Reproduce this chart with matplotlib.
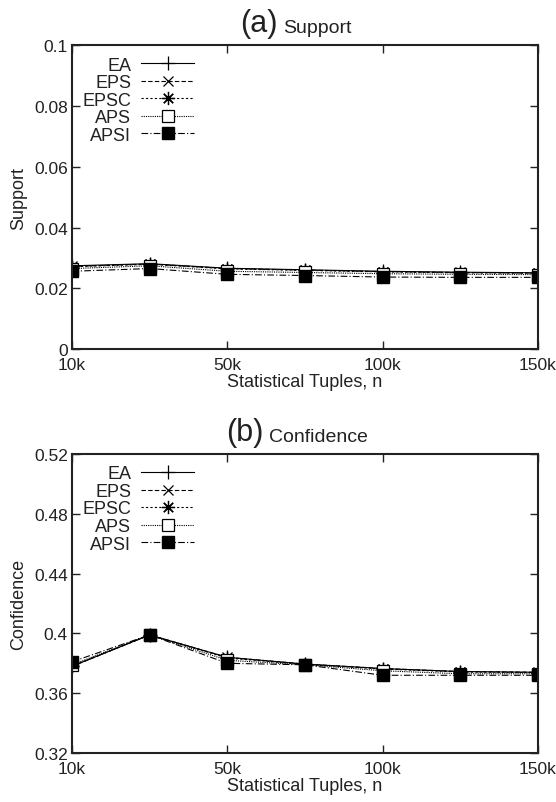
import matplotlib
matplotlib.use('Agg')
import matplotlib.pyplot as plt

plt.rcParams['font.family'] = ['Liberation Sans', 'DejaVu Sans']

# x categories (evenly spaced in the original plot)
tuples = ['10k', '25k', '50k', '75k', '100k', '125k', '150k']
tick_labels = ['10k', '50k', '100k', '150k']
methods = ['EA', 'EPS', 'EPSC', 'APS', 'APSI']

# Support values
support_EA = [0.0274, 0.0281, 0.0266, 0.0261, 0.0256, 0.0253, 0.0251]
support_EPS = [0.0272, 0.0280, 0.0265, 0.0260, 0.0255, 0.0252, 0.0250]
support_EPSC = [0.0271, 0.0279, 0.0264, 0.0259, 0.0254, 0.0251, 0.0250]
support_APS = [0.0265, 0.0274, 0.0256, 0.0252, 0.0248, 0.0246, 0.0245]
support_APSI = [0.0256, 0.0265, 0.0246, 0.0242, 0.0237, 0.0236, 0.0236]

# Confidence values
conf_EA = [0.378, 0.399, 0.384, 0.3795, 0.3765, 0.3745, 0.374]
conf_EPS = [0.378, 0.399, 0.384, 0.3795, 0.3765, 0.3745, 0.374]
conf_EPSC = [0.378, 0.399, 0.3835, 0.3793, 0.3762, 0.3742, 0.3738]
conf_APS = [0.379, 0.399, 0.382, 0.379, 0.375, 0.373, 0.373]
conf_APSI = [0.381, 0.399, 0.380, 0.379, 0.372, 0.372, 0.372]

styles = {
    'EA': dict(linestyle='-', marker='+', markersize=10, markeredgewidth=0.9),
    'EPS': dict(linestyle=(0, (4, 2)), marker='x', markersize=7.5, markeredgewidth=0.9),
    'EPSC': dict(linestyle=(0, (2, 2)), marker=(8, 2, 0), markersize=9.5, markeredgewidth=0.9),
    'APS': dict(linestyle=(0, (1, 1)), marker='s', markersize=8, markerfacecolor='white', markeredgewidth=0.9),
    'APSI': dict(linestyle=(0, (6, 2, 1, 2)), marker='s', markersize=8, markerfacecolor='black'),
}
ink = '#222222'


def panel(ax, series, yticks, ylabels, ylim, ylabel, tag, title, tag_x):
    x = list(range(len(tuples)))
    for name, vals in zip(methods, series):
        ax.plot(x, vals, color='black', linewidth=0.8, label=name, **styles[name])
    ax.set_xlim(0, len(tuples) - 1)
    ax.set_ylim(*ylim)
    ax.set_xticks([0, 2, 4, 6])
    ax.set_xticklabels(tick_labels)
    ax.set_yticks(yticks)
    ax.set_yticklabels(ylabels)
    ax.tick_params(direction='in', length=6, width=1, top=True, right=True,
                   labelsize=12.5, pad=3, colors=ink)
    ax.tick_params(axis='x', pad=6)
    for s in ax.spines.values():
        s.set_linewidth(1.5)
        s.set_color(ink)
    ax.set_xlabel('Statistical Tuples, n', fontsize=13, labelpad=0.5, color=ink)
    ax.set_ylabel(ylabel, fontsize=13, labelpad=5, color=ink)
    leg = ax.legend(loc='upper left', bbox_to_anchor=(0.022, 0.962), frameon=False,
                    markerfirst=False, fontsize=13, handlelength=2.95,
                    handletextpad=0.55, labelspacing=0.03, borderpad=0, borderaxespad=0)
    for t in leg.get_texts():
        t.set_color(ink)
    ax.text(tag_x, 1.022, tag, transform=ax.transAxes, ha='right', va='bottom', fontsize=22, color=ink)
    ax.text(tag_x + 0.011, 1.03, title, transform=ax.transAxes, ha='left', va='bottom', fontsize=14, color=ink)


fig = plt.figure(figsize=(5.56, 8.03), dpi=100)
ax1 = fig.add_axes([0.1295, 0.564, 0.838, 0.3786])
ax2 = fig.add_axes([0.1295, 0.061, 0.838, 0.3724])

panel(ax1, [support_EA, support_EPS, support_EPSC, support_APS, support_APSI],
      [0, 0.02, 0.04, 0.06, 0.08, 0.1], ['0', '0.02', '0.04', '0.06', '0.08', '0.1'],
      (0, 0.1), 'Support', '(a)', 'Support', 0.442)
panel(ax2, [conf_EA, conf_EPS, conf_EPSC, conf_APS, conf_APSI],
      [0.32, 0.36, 0.40, 0.44, 0.48, 0.52], ['0.32', '0.36', '0.4', '0.44', '0.48', '0.52'],
      (0.32, 0.52), 'Confidence', '(b)', 'Confidence', 0.412)

plt.savefig('out.png', dpi=100)
